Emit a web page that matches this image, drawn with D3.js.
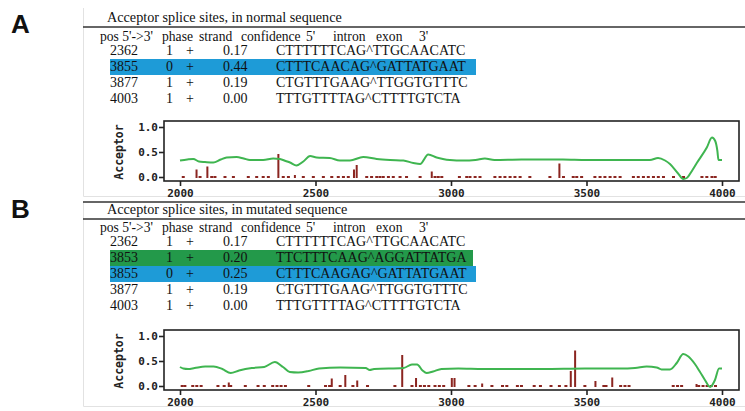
<!DOCTYPE html>
<html>
<head>
<meta charset="utf-8">
<script src="https://cdn.jsdelivr.net/npm/d3@7"></script>
<style>
body { margin: 0; background: #fff; }
</style>
</head>
<body>
<div id="fig"></div>
<script>
// ---- table rows ----
var posA = ["2362", "3855", "3877", "4003"];
var phaseA = ["1", "0", "1", "1"];
var strandA = ["+", "+", "+", "+"];
var confA = ["0.17", "0.44", "0.19", "0.00"];
var seqA = ["CTTTTTTCAG^TTGCAACATC", "CTTTCAACAG^GATTATGAAT", "CTGTTTGAAG^TTGGTGTTTC", "TTTGTTTTAG^CTTTTGTCTA"];
var markA = ["", "blue", "", ""];

var posB = ["2362", "3853", "3855", "3877", "4003"];
var phaseB = ["1", "1", "0", "1", "1"];
var strandB = ["+", "+", "+", "+", "+"];
var confB = ["0.17", "0.20", "0.25", "0.19", "0.00"];
var seqB = ["CTTTTTTCAG^TTGCAACATC", "TTCTTTCAAG^AGGATTATGA", "CTTTCAAGAG^GATTATGAAT", "CTGTTTGAAG^TTGGTGTTTC", "TTTGTTTTAG^CTTTTGTCTA"];
var markB = ["", "green", "blue", "", ""];

var headerCols = ["pos 5'->3'", "phase", "strand", "confidence", "5'", "intron", "exon", "3'"];

// ---- acceptor score curve (green line) ----
var curveA = [[2000,0.33],[2027,0.35],[2049,0.36],[2070,0.31],[2092,0.30],[2123,0.29],[2150,0.35],[2172,0.39],
  [2209,0.40],[2235,0.37],[2258,0.34],[2307,0.34],[2344,0.37],[2369,0.36],[2390,0.32],[2406,0.29],[2430,0.23],
  [2455,0.31],[2480,0.42],[2504,0.39],[2553,0.38],[2590,0.33],[2627,0.33],[2676,0.40],[2726,0.36],[2775,0.34],
  [2824,0.33],[2861,0.28],[2886,0.26],[2916,0.45],[2947,0.39],[2970,0.36],[2996,0.34],[3045,0.33],[3090,0.34],
  [3125,0.37],[3160,0.34],[3260,0.35],[3413,0.35],[3500,0.34],[3660,0.34],[3734,0.34],[3764,0.38],[3790,0.33],
  [3808,0.26],[3838,0.07],[3857,-0.04],[3870,-0.02],[3890,0.13],[3907,0.28],[3944,0.59],[3963,0.79],[3975,0.72],
  [3983,0.52],[3987,0.34],[4000,0.34]];

var curveB = [[2000,0.38],[2012,0.35],[2030,0.34],[2054,0.36],[2093,0.39],[2124,0.39],[2156,0.34],[2187,0.26],
  [2218,0.31],[2265,0.36],[2311,0.38],[2350,0.48],[2380,0.38],[2405,0.28],[2436,0.27],[2475,0.30],[2513,0.35],
  [2591,0.37],[2685,0.36],[2700,0.32],[2716,0.34],[2825,0.36],[2856,0.43],[2875,0.43],[2895,0.31],[2910,0.26],
  [2934,0.29],[2965,0.34],[3027,0.35],[3120,0.34],[3338,0.34],[3494,0.35],[3624,0.35],[3679,0.36],[3722,0.39],
  [3759,0.37],[3777,0.33],[3808,0.33],[3833,0.46],[3857,0.64],[3876,0.59],[3900,0.44],[3919,0.28],[3937,0.12],
  [3956,-0.02],[3974,0.12],[3989,0.35],[4000,0.35]];

// ---- candidate sites (dark red bars) ----
var barsA = [[2061,0.15],[2101,0.21],[2363,0.46],[2424,0.04],[2642,0.15],[2652,0.24],[2929,0.11],[3400,0.27]];
var barsB = [[2180,0.07],[2560,0.15],[2610,0.22],[2654,0.11],[2820,0.62],[2871,0.16],[3003,0.16],[3013,0.16],
  [3115,0.05],[3442,0.30],[3458,0.71],[3533,0.10],[3595,0.17],[3906,0.04]];

// low scoring sites, drawn as little dashes on the zero line
var dashA = [2012,2074,2117,2129,2166,2197,2252,2283,2307,2326,2381,2400,2455,2492,2529,2560,2584,2603,2621,
  2689,2707,2726,2738,2750,2769,2787,2812,2836,2886,2941,2953,2966,3031,3058,3070,3089,3107,3162,3181,3199,
  3218,3236,3255,3291,3365,3415,3451,3464,3482,3531,3550,3568,3587,3605,3624,3673,3691,3710,3728,3747,3765,
  3784,3821,3858,3926,3944,3963,3975];
var dashB = [2008,2018,2047,2062,2078,2140,2163,2187,2241,2288,2311,2342,2358,2373,2389,2475,2537,2552,2591,
  2638,2692,2793,2856,2887,2902,2918,2941,2957,2973,3066,3089,3151,3190,3206,3245,3260,3307,3330,3369,3400,
  3424,3494,3564,3572,3626,3642,3657,3820,3836,3851,3914,3930,3945,3960,3976];

var xTicks = [2000, 2500, 3000, 3500, 4000];
var yTicks = [0, 0.5, 1];

var W = 745, H = 411;
var svg = d3.select("#fig").append("svg")
    .attr("width", W)
    .attr("height", H);

var hiColor = { blue: "#1e9bd7", green: "#23994a" };
var serif = "'Liberation Serif', 'Times New Roman', serif";
var mono = "'DejaVu Sans Mono', monospace";

var x = d3.scaleLinear().domain([2000, 4000]).range([180, 722]);

function drawPanel(p) {
    var g = svg.append("g");

    // faint screenshot frame
    g.append("path")
        .attr("d", "M83.5," + p.frameTop + "V" + p.frameBottom + "H745")
        .attr("fill", "none")
        .attr("stroke", "#e2e2e2");

    g.append("text")
        .attr("x", 11).attr("y", p.letterY)
        .attr("font-family", "Arial, 'Liberation Sans', sans-serif")
        .attr("font-weight", "bold")
        .attr("font-size", 26)
        .attr("fill", "#111")
        .text(p.letter);

    if (p.topLine) {
        g.append("line").attr("x1", 83).attr("x2", 745)
            .attr("y1", p.topLine).attr("y2", p.topLine)
            .attr("stroke", "#333").attr("stroke-width", 1.6);
    }

    g.append("text")
        .attr("x", 107).attr("y", p.titleY)
        .attr("font-family", serif).attr("font-size", 14.2)
        .attr("fill", "#111")
        .text(p.title);

    g.append("line").attr("x1", 83).attr("x2", 745)
        .attr("y1", p.ruleY).attr("y2", p.ruleY)
        .attr("stroke", "#333").attr("stroke-width", 1.6);

    var headX = [100, 162, 199, 241, 306, 333, 376, 419];
    g.selectAll(".head").data(headerCols).enter().append("text")
        .attr("x", function(d, i) { return headX[i]; })
        .attr("y", p.headerY)
        .attr("font-family", serif).attr("font-size", 13.6)
        .attr("fill", "#111")
        .text(function(d) { return d; });

    var rowStep = 16;
    var rows = p.pos.map(function(d, i) { return i; });

    // highlight bands
    g.selectAll(".band").data(rows.filter(function(i) { return p.mark[i]; })).enter().append("rect")
        .attr("x", 110)
        .attr("y", function(i) { return p.rowY + i * rowStep - 12; })
        .attr("width", function(i) { return p.mark[i] == "green" ? 363 : 366; })
        .attr("height", rowStep)
        .attr("fill", function(i) { return hiColor[p.mark[i]]; });

    var cols = [
        { x: 110, vals: p.pos },
        { x: 166, vals: p.phase },
        { x: 186, vals: p.strand },
        { x: 223, vals: p.conf },
        { x: 276, vals: p.seq }
    ];
    cols.forEach(function(c) {
        g.selectAll(null).data(rows).enter().append("text")
            .attr("x", c.x)
            .attr("y", function(i) { return p.rowY + i * rowStep; })
            .attr("font-family", serif).attr("font-size", 14)
            .attr("fill", "#111")
            .text(function(i) { return c.vals[i]; });
    });

    // ---- the score plot ----
    var top = p.boxTop;
    var y = d3.scaleLinear().domain([0, 1]).range([top + 56, top + 6]);
    var plot = g.append("g");

    plot.selectAll(".dash").data(p.dash).enter().append("rect")
        .attr("x", function(d) { return x(d) - 1.5; })
        .attr("y", y(0) - 1)
        .attr("width", 3)
        .attr("height", 2)
        .attr("fill", "#8b2520");

    plot.selectAll(".bar").data(p.bars).enter().append("rect")
        .attr("x", function(d) { return x(d[0]) - 1; })
        .attr("y", function(d) { return y(d[1]); })
        .attr("width", 2)
        .attr("height", function(d) { return y(0) - y(d[1]) + 1; })
        .attr("fill", "#8b2520");

    var line = d3.line()
        .x(function(d) { return x(d[0]); })
        .y(function(d) { return y(d[1]); })
        .curve(d3.curveMonotoneX);

    plot.append("path")
        .datum(p.curve)
        .attr("d", line)
        .attr("fill", "none")
        .attr("stroke", "#3fb550")
        .attr("stroke-width", 2);

    plot.append("rect")
        .attr("x", 164).attr("y", top)
        .attr("width", 739 - 164).attr("height", 60)
        .attr("fill", "none")
        .attr("stroke", "#222")
        .attr("stroke-width", 1.6);

    var xAxis = d3.axisBottom(x).tickValues(xTicks).tickSize(5).tickFormat(d3.format("d"));
    var ax = plot.append("g").attr("transform", "translate(0," + (top + 60) + ")").call(xAxis);
    var yAxis = d3.axisLeft(y).tickValues(yTicks).tickSize(5).tickFormat(d3.format(".1f"));
    var ay = plot.append("g").attr("transform", "translate(164,0)").call(yAxis);

    [ax, ay].forEach(function(a) {
        a.select(".domain").remove();
        a.selectAll("line").attr("stroke", "#222").attr("stroke-width", 1.6);
        a.selectAll("text")
            .attr("font-family", mono)
            .attr("font-weight", "bold")
            .attr("font-size", 11)
            .attr("fill", "#222");
    });
    ax.selectAll("text").attr("y", 8).attr("dy", "0.71em");
    ay.selectAll("text").attr("x", -6);

    plot.append("text")
        .attr("transform", "translate(123," + (top + 31) + ") rotate(-90)")
        .attr("text-anchor", "middle")
        .attr("font-family", mono)
        .attr("font-weight", "bold")
        .attr("font-size", 11.5)
        .attr("fill", "#222")
        .text("Acceptor");
}

drawPanel({
    letter: "A", letterY: 33, frameTop: 8, frameBottom: 196.5,
    topLine: null, title: "Acceptor splice sites, in normal sequence",
    titleY: 22, ruleY: 27, headerY: 41, rowY: 55,
    pos: posA, phase: phaseA, strand: strandA, conf: confA, seq: seqA, mark: markA,
    boxTop: 121, curve: curveA, bars: barsA, dash: dashA
});

drawPanel({
    letter: "B", letterY: 218, frameTop: 202, frameBottom: 406.5,
    topLine: 202, title: "Acceptor splice sites, in mutated sequence",
    titleY: 214, ruleY: 219, headerY: 232, rowY: 246,
    pos: posB, phase: phaseB, strand: strandB, conf: confB, seq: seqB, mark: markB,
    boxTop: 330, curve: curveB, bars: barsB, dash: dashB
});
</script>
</body>
</html>
